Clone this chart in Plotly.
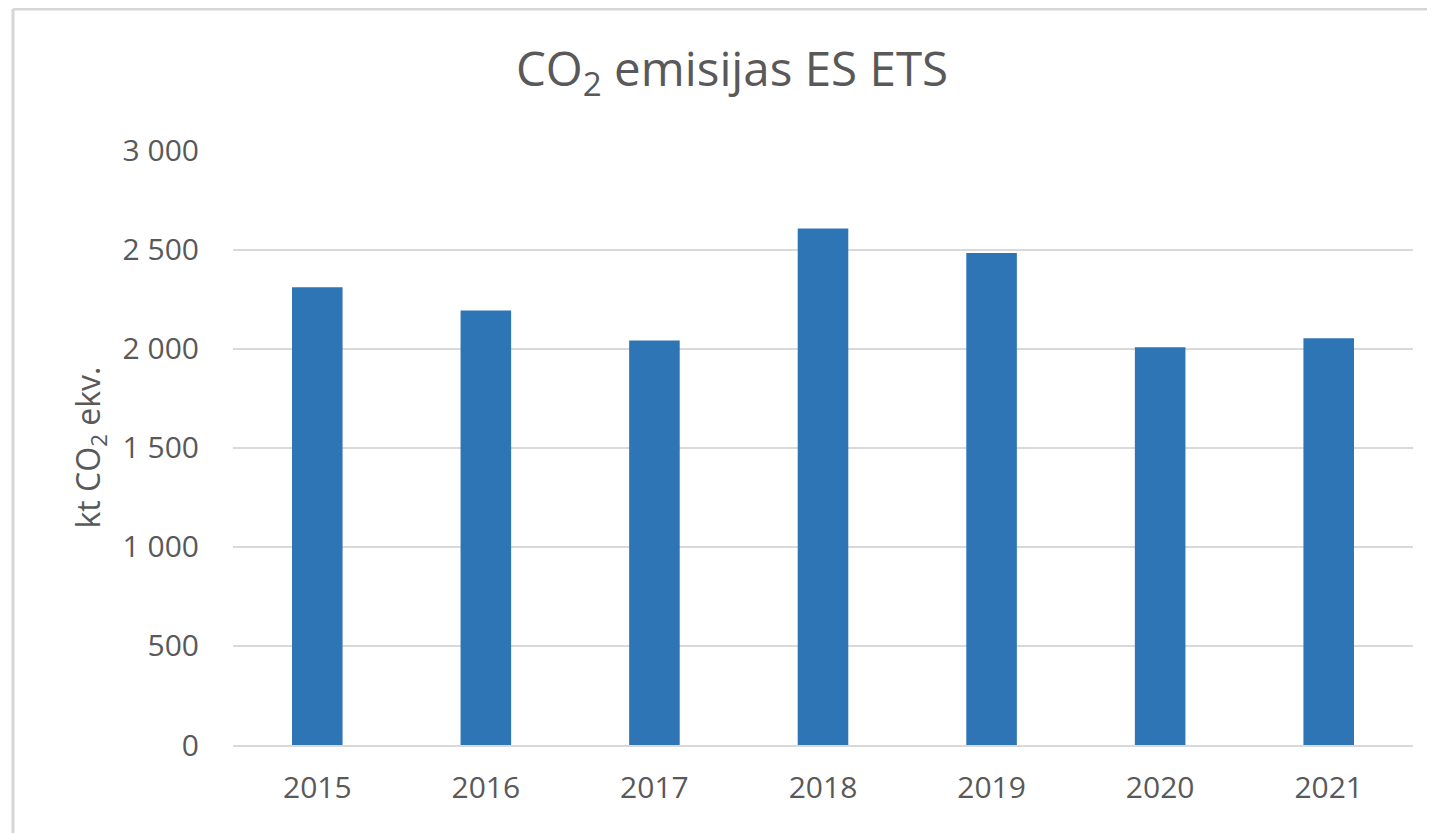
import plotly.graph_objects as go

years = ["2015", "2016", "2017", "2018", "2019", "2020", "2021"]
emissions = [2310, 2193, 2041, 2607, 2483, 2007, 2053]
y_ticks = [0, 500, 1000, 1500, 2000, 2500, 3000]
y_tick_labels = ["0", "500", "1 000", "1 500", "2 000", "2 500", "3 000"]

# page has an 8px body margin; figure is sized to fit the 1435x833 window
W, H = 1427, 825
L, R, T, B = 225, 22, 142, 88
pw, ph = W - L - R, H - T - B

fig = go.Figure(go.Bar(x=years, y=emissions, marker=dict(color="#2E75B6", line=dict(width=0)),
                       width=0.3))

fig.update_layout(
    width=W, height=H,
    margin=dict(l=L, r=R, t=T, b=B, pad=0),
    paper_bgcolor="white", plot_bgcolor="white",
    font=dict(family="Open Sans", color="#595959", size=30),
    title=dict(text="CO<sub>2</sub> emisijas ES ETS", x=(732 - 8) / W, xanchor="center",
               y=1 - 61 / H, yanchor="middle", yref="container",
               font=dict(size=47.5, color="#595959")),
    showlegend=False,
    bargap=0.7,
)
fig.update_xaxes(type="category", showgrid=False, showline=True, linecolor="#d9d9d9", linewidth=2,
                 ticks="", ticklabelstandoff=15, tickfont=dict(size=30))
fig.update_yaxes(range=[0, 3003], tickvals=y_ticks, ticktext=y_tick_labels,
                 showgrid=True, gridcolor="#d9d9d9", gridwidth=2, zeroline=False,
                 showline=False, ticks="", ticklabelstandoff=33, tickfont=dict(size=30),
                 title=dict(text="kt CO<sub>2</sub> ekv.", font=dict(size=32), standoff=12))

# chart border: only the top and left edges are inside the window
xl = (5 - L) / pw
yt = 1 + (T - 1) / ph
yb = -(B + 5) / ph
xr = 1 + (R + 5) / pw
border = dict(color="#d6d6d6", width=3)
fig.add_shape(type="line", xref="paper", yref="paper", x0=xl, x1=xr, y0=yt, y1=yt,
              line=border, layer="below")
fig.add_shape(type="line", xref="paper", yref="paper", x0=xl, x1=xl, y0=yb, y1=yt,
              line=border, layer="below")

fig.write_html("out.html")
